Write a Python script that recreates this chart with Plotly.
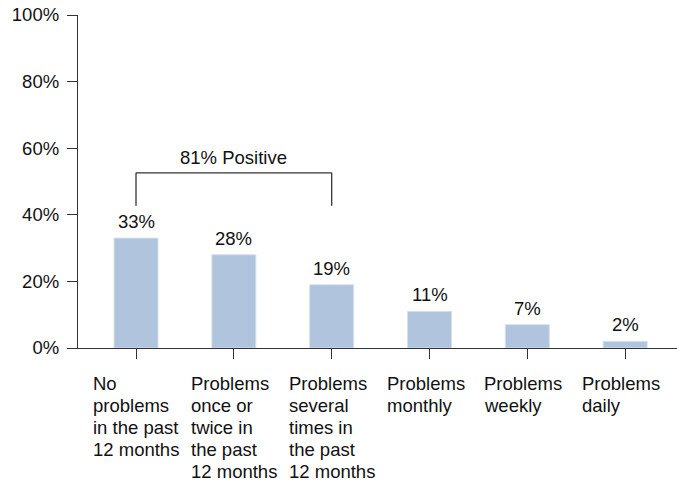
import plotly.graph_objects as go

categories = [
    "No<br>problems<br>in the past<br>12 months",
    "Problems<br>once or<br>twice in<br>the past<br>12 months",
    "Problems<br>several<br>times in<br>the past<br>12 months",
    "Problems<br>monthly",
    "Problems<br>weekly",
    "Problems<br>daily",
]
values = [33, 28, 19, 11, 7, 2]
y_ticks = [0, 20, 40, 60, 80, 100]
bracket_label = "81% Positive"
bracket_span = (0, 2)

FONT = "Arial, Liberation Sans, sans-serif"
FS = 18.5
TXT = "#111111"
AX = "#333333"
BAR = "#b0c4de"
LINE_GAP = 22

x_idx = list(range(len(categories)))

fig = go.Figure()
fig.add_trace(go.Bar(
    x=x_idx, y=values, width=0.45,
    marker=dict(color=BAR, line=dict(color="#d6e0ee", width=1)),
    hoverinfo="skip",
))

# value labels above bars
for i, v in enumerate(values):
    fig.add_annotation(
        x=i, xref="x", y=v, yref="y", text=f"{v}%", showarrow=False,
        yanchor="bottom", yshift=4,
        font=dict(family=FONT, size=FS, color=TXT),
    )

# category labels, left aligned below ticks, one annotation per line
for i, c in enumerate(categories):
    for j, part in enumerate(c.split("<br>")):
        fig.add_annotation(
            x=i, xref="x", y=0, yref="y", text=part, showarrow=False,
            xanchor="left", yanchor="top", align="left",
            xshift=-45, yshift=-23 - j * LINE_GAP,
            font=dict(family=FONT, size=FS, color=TXT),
        )

# bracket
b0, b1 = bracket_span
top_y, bot_y = 52.6, 42.7
line = dict(color=AX, width=1.3)
fig.add_shape(type="line", xref="x", yref="y", x0=b0, x1=b1, y0=top_y, y1=top_y, line=line)
fig.add_shape(type="line", xref="x", yref="y", x0=b0, x1=b0, y0=top_y, y1=bot_y, line=line)
fig.add_shape(type="line", xref="x", yref="y", x0=b1, x1=b1, y0=top_y, y1=bot_y, line=line)
fig.add_annotation(
    x=(b0 + b1) / 2, xref="x", y=top_y, yref="y", text=bracket_label,
    showarrow=False, yanchor="bottom", yshift=3,
    font=dict(family=FONT, size=FS, color=TXT),
)

fig.update_layout(
    width=677, height=484,
    margin=dict(l=78, r=0, t=15, b=136, autoexpand=False),
    plot_bgcolor="white", paper_bgcolor="white",
    showlegend=False,
    font=dict(family=FONT, size=FS, color=TXT),
    xaxis=dict(
        range=[-0.593, 5.53], tickvals=x_idx, showticklabels=False,
        ticks="outside", ticklen=10, tickcolor=AX, tickwidth=1.3,
        showline=True, linecolor=AX, linewidth=1.3,
        showgrid=False, zeroline=False, fixedrange=True,
    ),
    yaxis=dict(
        range=[0, 100], tickvals=y_ticks, ticktext=[f"{t}%" for t in y_ticks],
        ticks="outside", ticklen=10, tickcolor=AX, tickwidth=1.3,
        showline=True, linecolor=AX, linewidth=1.3,
        showgrid=False, zeroline=False, fixedrange=True,
        ticklabelstandoff=4,
        tickfont=dict(family=FONT, size=FS, color=TXT),
    ),
)

fig.write_html(
    "out.html",
    config={"displayModeBar": False},
    post_script="document.body.style.margin='0';document.body.style.padding='0';",
)
